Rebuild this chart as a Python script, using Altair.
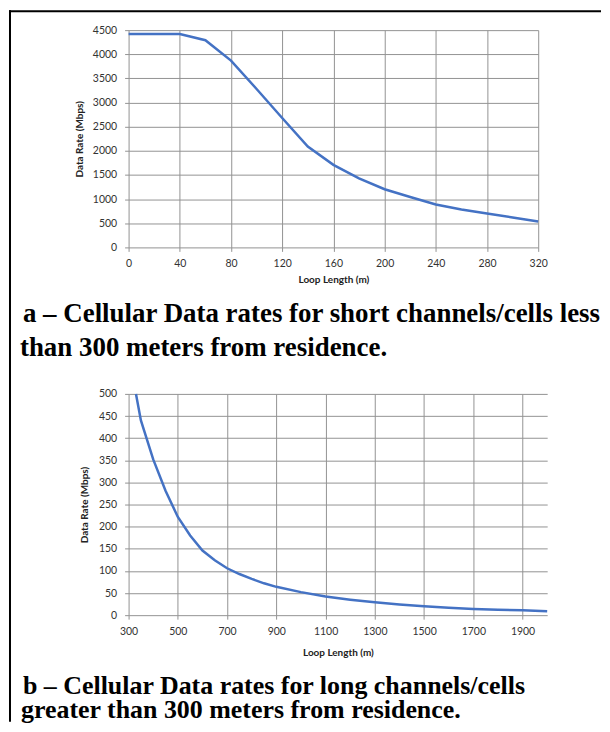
import altair as alt
import pandas as pd

# ---- data ----
a_len = [0, 40, 60, 80, 100, 120, 140, 160, 180, 200, 220, 240, 260, 280, 300, 320]
a_rate = [4420, 4420, 4290, 3870, 3280, 2680, 2090, 1710, 1430, 1205, 1045, 890, 785, 700, 620, 535]
a_xticks = [0, 40, 80, 120, 160, 200, 240, 280, 320]
a_yticks = [0, 500, 1000, 1500, 2000, 2500, 3000, 3500, 4000, 4500]

b_len = [330, 350, 400, 450, 500, 550, 600, 650, 700, 750, 800, 850, 900, 1000,
         1100, 1200, 1300, 1400, 1500, 1600, 1700, 1800, 1900, 2000]
b_rate = [500, 440, 352, 281, 222, 180, 146, 124, 106, 93, 82, 72, 64, 52,
          42, 35, 29, 24, 20, 17, 14, 12, 11, 9]
b_xticks = [300, 500, 700, 900, 1100, 1300, 1500, 1700, 1900]
b_yticks = [0, 50, 100, 150, 200, 250, 300, 350, 400, 450, 500]

x_title = "Loop Length (m)"
y_title = "Data Rate (Mbps)"
cap_a = ["a – Cellular Data rates for short channels/cells less",
         "than 300 meters from residence."]
cap_b = ["b – Cellular Data rates for long channels/cells",
         "greater than 300 meters from residence."]

GRID = "#939393"
BLUE = "#4472C4"
LFONT = "Lato"


def axis(values, title, orient, title_pos):
    kw = dict(values=values, title=title, format="d", grid=True, gridColor=GRID, gridWidth=1,
              domain=False, ticks=True, tickColor=GRID, tickSize=4, tickWidth=1,
              labelFont=LFONT, labelFontSize=10.5, labelColor="#333333",
              labelFlush=False, labelPadding=7 if orient == "x" else 8,
              titleFont=LFONT, titleFontSize=10, titleFontWeight="bold",
              titleColor="#222222", titleBaseline="middle")
    if orient == "x":
        kw["titleY"] = title_pos
    else:
        kw["titleX"] = title_pos
    return alt.Axis(**kw)


df_a = pd.DataFrame({"len": a_len, "rate": a_rate})
df_b = pd.DataFrame({"len": b_len, "rate": b_rate})

line_a = alt.Chart(df_a).mark_line(color=BLUE, strokeWidth=2.5).encode(
    x=alt.X("len:Q", scale=alt.Scale(domain=[0, 320], nice=False),
            axis=axis(a_xticks, x_title, "x", 32)),
    y=alt.Y("rate:Q", scale=alt.Scale(domain=[0, 4500], nice=False),
            axis=axis(a_yticks, y_title, "y", -49)),
)

one = pd.DataFrame({"k": [0]})
frame_left = alt.Chart(one).mark_rule(color="black", strokeWidth=2).encode(
    x=alt.value(-119), y=alt.value(-20), y2=alt.value(694))
frame_top = alt.Chart(one).mark_rule(color="black", strokeWidth=2).encode(
    y=alt.value(-19), x=alt.value(-120), x2=alt.value(474))


def caption(text, x, y, size):
    return alt.Chart(pd.DataFrame({"t": [text]})).mark_text(
        align="left", baseline="alphabetic", font="Liberation Serif",
        fontWeight="bold", fontSize=size, color="black").encode(
        text="t:N", x=alt.value(x), y=alt.value(y))


chart_a = alt.layer(
    line_a, frame_left, frame_top,
    caption(cap_a[0], -106, 293, 27), caption(cap_a[1], -109, 327, 27),
    caption(cap_b[0], -106, 666, 26), caption(cap_b[1], -108, 690, 26),
).properties(width=411, height=218)

chart_b = alt.Chart(df_b).mark_line(color=BLUE, strokeWidth=2.5).encode(
    x=alt.X("len:Q", scale=alt.Scale(domain=[300, 2000], nice=False),
            axis=axis(b_xticks, x_title, "x", 37)),
    y=alt.Y("rate:Q", scale=alt.Scale(domain=[0, 500], nice=False),
            axis=axis(b_yticks, y_title, "y", -44)),
).properties(width=420, height=222)

chart = alt.vconcat(chart_a, chart_b, spacing=147, bounds="flush").properties(
    padding=0, background="white"
).configure_view(strokeWidth=0)

chart.save("out.html", embed_options={"renderer": "svg", "actions": False})
